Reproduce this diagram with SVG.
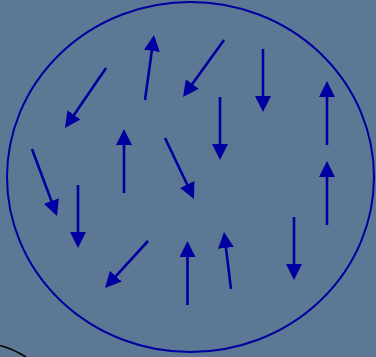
<svg xmlns="http://www.w3.org/2000/svg" width="376" height="357" viewBox="0 0 376 357">
<defs>
<style>
.a{stroke:#0000a0;stroke-width:2.6;fill:none;marker-end:url(#h)}
</style>
<marker id="h" markerUnits="userSpaceOnUse" markerWidth="16" markerHeight="16" refX="2" refY="8" orient="auto" viewBox="0 0 16 16">
<path d="M0,0 L16,8 L0,16 z" fill="#0000a0"/>
</marker>
</defs>
<rect width="376" height="357" fill="#5d7894"/>
<g id="region">
<ellipse cx="190.5" cy="177" rx="183.5" ry="175" fill="none" stroke="#0000a0" stroke-width="2"/>
</g>
<path d="M0,345.5 Q13,349 26,357" fill="none" stroke="#000" stroke-width="1.6"/>
<g id="arrows">
<line class="a" x1="106" y1="68" x2="72.9" y2="116.5"/>
<line class="a" x1="145" y1="100" x2="152.1" y2="48.9"/>
<line class="a" x1="224" y1="40" x2="191.2" y2="85.6"/>
<line class="a" x1="263" y1="49" x2="263" y2="98"/>
<line class="a" x1="220" y1="97" x2="220" y2="146"/>
<line class="a" x1="327" y1="145" x2="327" y2="95"/>
<line class="a" x1="327" y1="225" x2="327" y2="175"/>
<line class="a" x1="124" y1="193" x2="124" y2="143"/>
<line class="a" x1="165" y1="138" x2="188" y2="186.3"/>
<line class="a" x1="32" y1="149" x2="52.1" y2="202.9"/>
<line class="a" x1="78" y1="185" x2="78" y2="234"/>
<line class="a" x1="148" y1="241" x2="114.5" y2="277.7"/>
<line class="a" x1="187.5" y1="305" x2="187.5" y2="255"/>
<line class="a" x1="231" y1="289" x2="225.7" y2="245.9"/>
<line class="a" x1="294" y1="217" x2="294" y2="266"/>
</g>
</svg>
